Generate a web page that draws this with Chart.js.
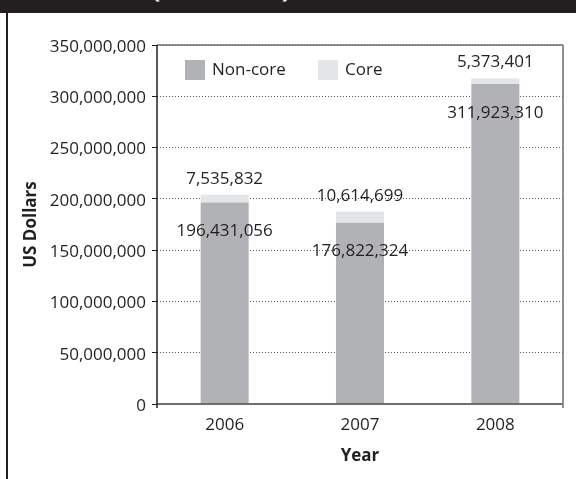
<!DOCTYPE html>
<html>
<head>
<meta charset="utf-8">
<script src="https://cdn.jsdelivr.net/npm/chart.js@4"></script>
<style>
  html, body { margin: 0; padding: 0; background: #fff; }
  #wrap { position: relative; width: 576px; height: 479px; overflow: hidden; }
  #head { position: absolute; left: 0; top: 0; width: 576px; height: 13px; background: #231f20; overflow: hidden; }
  #head span { position: absolute; left: 152px; top: -23px; font: bold 24px/24px "Open Sans"; color: #fff; white-space: nowrap; }
  #rule { position: absolute; left: 6px; top: 13px; width: 2px; height: 466px; background: #231f20; }
  canvas { position: absolute; left: 0; top: 0; }
</style>
</head>
<body>
<div id="wrap">
  <canvas id="chart" width="576" height="479"></canvas>
  <div id="head"><span>(2006–2008)</span></div>
  <div id="rule"></div>
</div>
<script>
// funding per year, split into non-core and core money
const years = ['2006', '2007', '2008'];
const nonCore = [196431056, 176822324, 311923310];
const core = [7535832, 10614699, 5373401];

const yMax = 350000000;
const yStep = 50000000;

const ink = '#231f20';
const font = '"Open Sans", sans-serif';
const fmt = v => v.toLocaleString('en-US');

// plot frame: dark left axis, grey top/right/bottom
const frame = {
  id: 'frame',
  afterDatasetsDraw(chart) {
    const { ctx, chartArea: a } = chart;
    ctx.save();
    ctx.strokeStyle = '#6d6e71';
    ctx.lineWidth = 1.5;
    ctx.beginPath();
    ctx.moveTo(a.left, a.top);
    ctx.lineTo(a.right, a.top);
    ctx.moveTo(a.right, a.top);
    ctx.lineTo(a.right, a.bottom + 4);
    ctx.stroke();
    ctx.lineWidth = 2;
    ctx.beginPath();
    ctx.moveTo(a.left, a.bottom);
    ctx.lineTo(a.right, a.bottom);
    ctx.stroke();
    ctx.strokeStyle = ink;
    ctx.lineWidth = 1.5;
    ctx.beginPath();
    ctx.moveTo(a.left, a.top);
    ctx.lineTo(a.left, a.bottom + 4);
    ctx.stroke();
    ctx.restore();
  }
};

// value text above / inside each stack
const valueLabels = {
  id: 'valueLabels',
  afterDatasetsDraw(chart) {
    const { ctx, scales: { x, y } } = chart;
    ctx.save();
    ctx.font = '17px ' + font;
    ctx.fillStyle = ink;
    ctx.textAlign = 'center';
    ctx.textBaseline = 'middle';
    years.forEach((yr, i) => {
      const cx = x.getPixelForValue(i);
      ctx.fillText(fmt(nonCore[i]), cx, y.getPixelForValue(nonCore[i]) + 29);
      ctx.fillText(fmt(core[i]), cx, y.getPixelForValue(nonCore[i] + core[i]) - 16);
    });
    ctx.restore();
  }
};

// legend sits inside the plot, top left
const innerLegend = {
  id: 'innerLegend',
  afterDraw(chart) {
    const { ctx, chartArea: a } = chart;
    ctx.save();
    ctx.font = '17px ' + font;
    ctx.textBaseline = 'middle';
    let lx = a.left + 28;
    const ly = a.top + 15;
    chart.data.datasets.forEach(ds => {
      ctx.fillStyle = ds.backgroundColor;
      ctx.fillRect(lx, ly, 20, 20);
      ctx.fillStyle = ink;
      ctx.fillText(ds.label, lx + 27, ly + 10);
      lx += 133;
    });
    ctx.restore();
  }
};

new Chart(document.getElementById('chart'), {
  type: 'bar',
  data: {
    labels: years,
    datasets: [
      { label: 'Non-core', data: nonCore, backgroundColor: '#b1b2b5' },
      { label: 'Core', data: core, backgroundColor: '#e4e5e6' }
    ]
  },
  options: {
    responsive: false,
    animation: false,
    layout: { padding: { top: 45, right: 13, bottom: 0, left: 0 } },
    datasets: { bar: { barPercentage: 1, categoryPercentage: 0.355, borderWidth: 0 } },
    plugins: { legend: { display: false }, tooltip: { enabled: false } },
    scales: {
      x: {
        stacked: true,
        grid: { display: false, drawTicks: false },
        border: { display: false },
        ticks: { color: ink, font: { family: font, size: 17 }, padding: 11 },
        title: { display: true, text: 'Year', color: ink, font: { family: font, size: 17, weight: 'bold' }, padding: { top: 0, bottom: 13 } },
        afterFit(s) { s.height = 75; }
      },
      y: {
        stacked: true,
        min: 0,
        max: yMax,
        grid: { color: '#555', lineWidth: 1, tickLength: 5, tickColor: ink, tickBorderDash: [] },
        border: { display: false, dash: [1, 2] },
        ticks: { stepSize: yStep, color: ink, font: { family: font, size: 17 }, padding: 6, labelOffset: 2, callback: v => fmt(v) },
        title: { display: true, text: 'US Dollars', color: ink, font: { family: font, size: 17, weight: 'bold' }, padding: { top: 21, bottom: 0 } },
        afterFit(s) { s.width = 157; }
      }
    }
  },
  plugins: [frame, valueLabels, innerLegend]
});
</script>
</body>
</html>
